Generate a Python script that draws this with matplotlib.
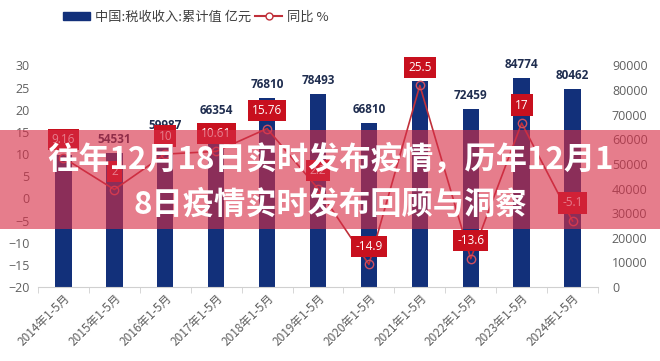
import matplotlib
matplotlib.use("Agg")
import matplotlib.pyplot as plt
from matplotlib.patches import Rectangle, Patch
from matplotlib.lines import Line2D

plt.rcParams['font.family'] = ['Noto Sans CJK SC', 'DejaVu Sans']

categories = ["2014年1-5月", "2015年1-5月", "2016年1-5月", "2017年1-5月", "2018年1-5月",
              "2019年1-5月", "2020年1-5月", "2021年1-5月", "2022年1-5月", "2023年1-5月",
              "2024年1-5月"]
tax_revenue = [53462, 54531, 59987, 66354, 76810, 78493, 66810, 83847, 72459, 84774, 80462]
bar_labels = ["", "54531", "59987", "66354", "76810", "78493", "66810", "", "72459", "84774", "80462"]
yoy = [9.16, 2.0, 10.0, 10.61, 15.76, 2.2, -14.9, 25.5, -13.6, 17.0, -5.1]
yoy_labels = ["9.16", "2", "10", "10.61", "15.76", "2.2", "-14.9", "25.5", "-13.6", "17", "-5.1"]
left_ticks = [-20, -15, -10, -5, 0, 5, 10, 15, 20, 25, 30]
right_ticks = [0, 10000, 20000, 30000, 40000, 50000, 60000, 70000, 80000, 90000]
legend_bar = "中国:税收收入:累计值 亿元"
legend_line = "同比 %"
title_lines = ["往年12月18日实时发布疫情，历年12月1", "8日疫情实时发布回顾与洞察"]

W, H = 660, 361
fig = plt.figure(figsize=(6.6, 3.61), dpi=100)
fig.patch.set_facecolor('white')
ax = fig.add_axes([38 / W, 1 - 287 / H, (598 - 38) / W, (287 - 65.5) / H])
ax2 = ax.twinx()

x = list(range(len(categories)))
bar_color = '#12307a'
line_color = '#c0303a'
label_red = '#c8101e'
grey = '#606060'

# bars on right axis
ax2.bar(x, tax_revenue, width=0.32, color=bar_color, zorder=2)
for xi, v, lab in zip(x, tax_revenue, bar_labels):
    if lab:
        ax2.annotate(lab, (xi, v), xytext=(0, 5), textcoords='offset points',
                     ha='center', va='bottom', fontsize=8.5, color='#1f2d4f',
                     fontweight='bold', family=['Open Sans', 'DejaVu Sans'])
ax2.set_ylim(0, 90000)
ax2.set_yticks(right_ticks)

# line on left axis (drawn above bars)
ax.set_zorder(ax2.get_zorder() + 1)
ax.patch.set_visible(False)
ax.plot(x, yoy, color=line_color, lw=1.2, marker='o', ms=6, mfc='none',
        mec='#d05060', mew=1.0, zorder=3)
for xi, v, lab in zip(x, yoy, yoy_labels):
    ax.annotate(lab, (xi, v), xytext=(0, 13), textcoords='offset points',
                ha='center', va='center', fontsize=8.5, color='white',
                family=['Open Sans', 'DejaVu Sans'],
                bbox=dict(boxstyle='square,pad=0.35', fc=label_red, ec='none'), zorder=4)
ax.set_ylim(-20, 30)
ax.set_yticks(left_ticks)
ax.set_xlim(-0.5, len(categories) - 0.5)
ax.set_xticks(x)
ax.set_xticklabels(categories, rotation=45, ha='right', rotation_mode='anchor',
                   fontsize=8.5, color=grey)
ax.set_xticks([i - 0.5 for i in range(len(categories) + 1)], minor=True)
ax.tick_params(axis='x', which='major', length=0, pad=3)
ax.tick_params(axis='x', which='minor', length=4, color='#d0d0d0')

for a in (ax, ax2):
    for s in ('top', 'right', 'left'):
        a.spines[s].set_visible(False)
    a.spines['bottom'].set_color('#d0d0d0')
ax2.spines['bottom'].set_visible(False)
ax.tick_params(axis='y', length=0, labelsize=9, labelcolor=grey, pad=6)
ax2.tick_params(axis='y', length=0, labelsize=9, labelcolor=grey, pad=10)
for t in ax.get_yticklabels() + ax2.get_yticklabels():
    t.set_family(['Open Sans', 'DejaVu Sans'])

# legend
handles = [Patch(color=bar_color, label=legend_bar),
           Line2D([0], [0], color=line_color, lw=1.5, marker='o', ms=5, mfc='white',
                  mec=line_color, label=legend_line)]
fig.legend(handles=handles, loc='center', bbox_to_anchor=(0.297, 1 - 17 / H), ncol=2,
           frameon=False, fontsize=9.5, labelcolor='#404040', handlelength=2.0,
           handleheight=0.55, columnspacing=0.3, handletextpad=0.4)

# overlay band and title
fig.patches.append(Rectangle((0, 1 - 229 / H), 1, (229 - 130) / H, transform=fig.transFigure,
                             facecolor=(215 / 255, 45 / 255, 70 / 255), alpha=0.62,
                             edgecolor='none', zorder=10))
fig.text(0.5, 1 - 160 / H, title_lines[0], ha='center', va='center', fontsize=22.5,
         fontweight='bold', color='white', zorder=11)
fig.text(0.5, 1 - 205 / H, title_lines[1], ha='center', va='center', fontsize=22.5,
         fontweight='bold', color='white', zorder=11)

fig.savefig('out.png', dpi=100)
